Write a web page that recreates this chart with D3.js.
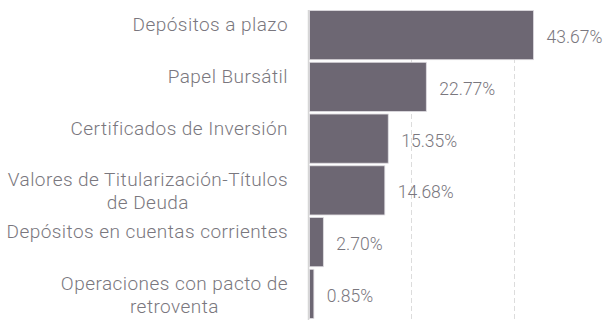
<!DOCTYPE html>
<html>
<head>
<meta charset="utf-8">
<script src="https://cdn.jsdelivr.net/npm/d3@7"></script>
<style>
  html, body { margin: 0; padding: 0; background: #fff; }
  svg text { font-family: "Roboto", "Open Sans", sans-serif; font-weight: 300; fill: #7a777e; }
</style>
</head>
<body>
<svg id="chart" width="610" height="320"></svg>
<script>
// Portfolio composition by instrument type (share of total, %)
const categories = [
  ["Depósitos a plazo"],
  ["Papel Bursátil"],
  ["Certificados de Inversión"],
  ["Valores de Titularización-Títulos", "de Deuda"],
  ["Depósitos en cuentas corrientes"],
  ["Operaciones con pacto de", "retroventa"]
];
const values = [43.67, 22.77, 15.35, 14.68, 2.70, 0.85];
const valueLabels = ["43.67%", "22.77%", "15.35%", "14.68%", "2.70%", "0.85%"];
const gridTicks = [20, 40];

const svg = d3.select("#chart");
const W = 610, H = 320;

const x = d3.scaleLinear().domain([0, 50]).range([308.5, 565]);
const y = d3.scaleBand()
  .domain(d3.range(categories.length))
  .range([9.5, 319.5])
  .paddingInner(0.05)
  .paddingOuter(0.02);

// dashed vertical gridlines
svg.append("g")
  .selectAll("line")
  .data(gridTicks)
  .join("line")
  .attr("x1", d => Math.round(x(d)) + 0.5)
  .attr("x2", d => Math.round(x(d)) + 0.5)
  .attr("y1", 10)
  .attr("y2", H)
  .attr("stroke", "#dcdcdc")
  .attr("stroke-width", 1)
  .attr("stroke-dasharray", "5,3");

// bars
svg.append("g")
  .selectAll("rect")
  .data(values)
  .join("rect")
  .attr("x", x(0) + 1)
  .attr("y", (d, i) => y(i))
  .attr("width", d => x(d) - x(0))
  .attr("height", y.bandwidth())
  .attr("fill", "#6d6773")
  .attr("stroke", "#dedbe0")
  .attr("stroke-width", 0.8);

// baseline axis
svg.append("line")
  .attr("x1", 308.5).attr("x2", 308.5)
  .attr("y1", 10).attr("y2", H)
  .attr("stroke", "#d6d6d6")
  .attr("stroke-width", 1.5);

// category labels, first line sits a little above the bar centre
const labels = svg.append("g")
  .selectAll("text")
  .data(categories)
  .join("text")
  .attr("font-size", 19)
  .attr("letter-spacing", 0.45)
  .attr("text-anchor", "middle")
  .attr("dominant-baseline", "central")
  .attr("y", (d, i) => y(i) + y.bandwidth() / 2 - 11);

labels.each(function (lines) {
  const t = d3.select(this);
  lines.forEach((ln, k) => {
    t.append("tspan").text(ln).attr("dy", k === 0 ? 0 : 23);
  });
});
// right-align each block on its widest line, with the lines centred
labels.each(function () {
  const t = d3.select(this);
  const spans = t.selectAll("tspan").nodes();
  const maxW = d3.max(spans, s => s.getComputedTextLength());
  t.selectAll("tspan").attr("x", 288 - maxW / 2);
});

// value labels to the right of each bar
svg.append("g")
  .selectAll("text")
  .data(values)
  .join("text")
  .attr("font-size", 17.5)
  .attr("dominant-baseline", "central")
  .attr("x", d => x(d) + 14)
  .attr("y", (d, i) => y(i) + y.bandwidth() / 2 + 2)
  .text((d, i) => valueLabels[i]);
</script>
</body>
</html>
